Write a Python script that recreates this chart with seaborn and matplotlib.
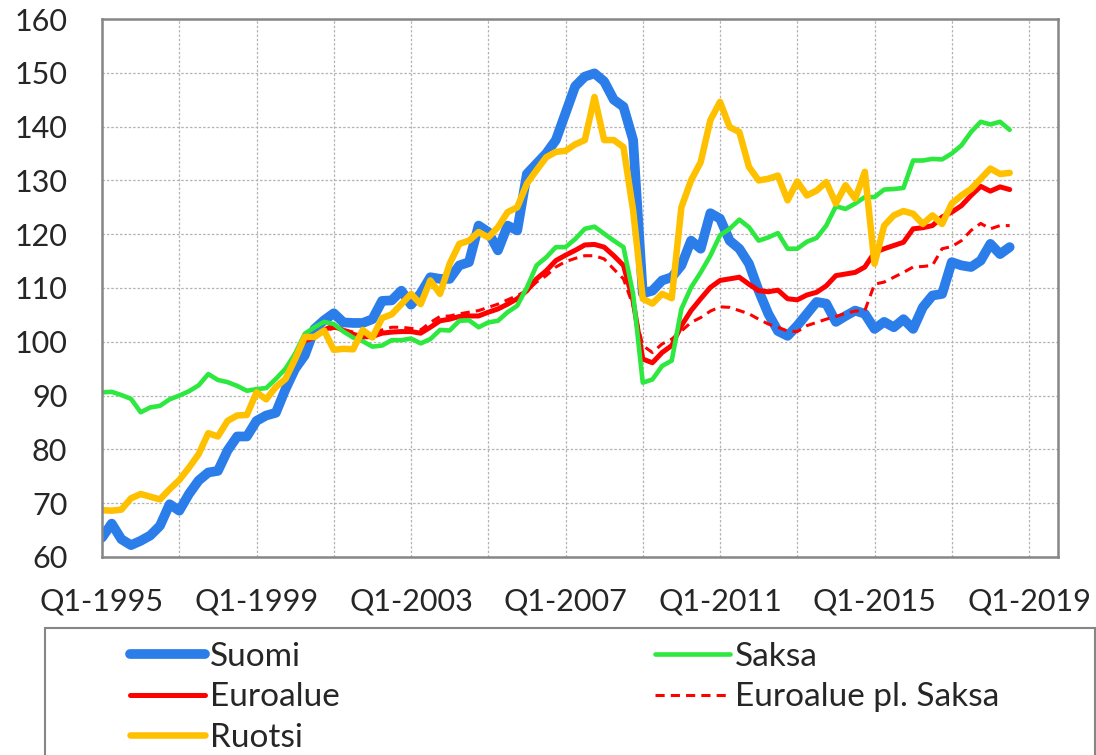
import numpy as np
import pandas as pd
import seaborn as sns
import matplotlib.pyplot as plt
from matplotlib.patches import Rectangle

# quarterly index, Q1-1995 .. Q3-2018
suomi = [63.6, 66.2, 63.3, 62.2, 63.0, 64.0, 65.8, 69.8, 68.6, 71.7,
         74.2, 75.7, 76.0, 79.8, 82.4, 82.4, 85.3, 86.3, 86.8, 91.2,
         95.0, 97.5, 102.4, 104.0, 105.3, 103.6, 103.5, 103.5, 104.2, 107.6,
         107.7, 109.5, 106.9, 109.0, 112.0, 111.7, 111.7, 114.2, 114.8, 121.6,
         120.4, 117.0, 121.6, 120.7, 131.2, 133.1, 135.0, 137.5, 142.5, 147.5,
         149.3, 149.9, 148.4, 145.0, 143.7, 137.5, 109.0, 109.5, 111.4, 112.0,
         114.2, 118.8, 117.3, 123.9, 122.9, 118.8, 117.3, 114.5, 109.5, 105.2,
         102.0, 101.1, 103.0, 105.2, 107.4, 107.1, 103.7, 104.8, 105.8, 105.2,
         102.4, 103.7, 102.7, 104.2, 102.4, 106.4, 108.6, 108.9, 114.8, 114.2,
         113.9, 115.1, 118.2, 116.3, 117.6]
saksa = [90.6, 90.7, 90.1, 89.4, 86.9, 87.8, 88.1, 89.3, 90.0, 90.8,
         91.9, 94.0, 92.9, 92.5, 91.8, 90.9, 91.2, 91.4, 93.1, 95.0,
         97.8, 101.5, 102.7, 103.7, 103.3, 101.9, 100.8, 100.1, 99.1, 99.3,
         100.3, 100.3, 100.6, 99.7, 100.5, 102.2, 102.1, 103.9, 104.0, 102.7,
         103.6, 103.9, 105.5, 106.7, 110.1, 114.2, 115.7, 117.6, 117.6, 119.1,
         121.0, 121.4, 120.1, 118.8, 117.6, 108.9, 92.4, 93.0, 95.5, 96.5,
         106.1, 110.1, 112.9, 116.0, 119.8, 121.0, 122.7, 121.3, 118.8, 119.4,
         120.2, 117.3, 117.3, 118.6, 119.3, 121.6, 125.2, 124.7, 125.7, 126.9,
         126.9, 128.3, 128.4, 128.6, 133.7, 133.7, 134.0, 133.9, 135.0, 136.5,
         139.0, 140.9, 140.4, 140.9, 139.4]
ruotsi = [68.7, 68.6, 68.8, 70.9, 71.7, 71.2, 70.7, 72.6, 74.3, 76.6,
          79.1, 83.0, 82.4, 85.3, 86.3, 86.4, 90.6, 89.3, 91.6, 93.1,
          96.8, 100.9, 100.9, 102.1, 98.5, 98.7, 98.6, 102.2, 100.8, 104.4,
          105.1, 107.0, 108.9, 107.0, 111.4, 108.9, 114.5, 118.2, 118.8, 120.4,
          119.4, 121.3, 124.1, 125.0, 129.4, 131.9, 134.3, 135.3, 135.5, 136.7,
          137.5, 145.5, 137.5, 137.5, 136.2, 124.4, 108.0, 107.1, 108.9, 108.1,
          125.0, 130.0, 133.4, 141.2, 144.6, 139.9, 139.0, 132.5, 130.0, 130.3,
          130.9, 126.3, 129.8, 127.2, 128.1, 129.7, 125.7, 129.1, 126.6, 131.6,
          114.5, 121.6, 123.5, 124.3, 123.8, 121.9, 123.5, 121.9, 125.7, 127.2,
          128.4, 130.3, 132.2, 131.2, 131.4]
# euro series start Q1-2000
euroalue = [97.6, 100.2, 100.8, 102.2, 103.0, 102.1, 101.4, 100.9, 101.0, 101.6,
            101.8, 101.9, 101.9, 101.6, 102.7, 103.9, 104.2, 104.7, 104.8, 104.8,
            105.5, 106.1, 107.0, 108.0, 109.5, 111.7, 113.2, 115.1, 116.1, 117.0,
            118.0, 118.1, 117.6, 116.0, 114.2, 107.6, 96.8, 96.1, 98.0, 99.3,
            103.0, 105.8, 108.0, 110.1, 111.4, 111.7, 112.0, 110.7, 109.5, 109.3,
            109.6, 108.0, 107.8, 108.7, 109.2, 110.4, 112.3, 112.6, 112.9, 113.9,
            116.6, 117.3, 117.9, 118.5, 121.0, 121.2, 121.6, 123.2, 124.1, 125.3,
            127.2, 128.9, 128.0, 128.8, 128.3]
euro_pl_saksa = [97.4, 100.5, 101.0, 102.0, 102.5, 102.3, 101.8, 101.5, 101.8, 102.2,
                 102.7, 102.7, 102.5, 102.2, 103.6, 104.7, 104.8, 105.2, 105.5, 105.8,
                 106.4, 107.0, 107.8, 108.6, 109.5, 111.1, 112.3, 113.9, 114.9, 115.5,
                 116.0, 116.0, 115.4, 113.5, 111.7, 106.7, 99.3, 98.0, 99.6, 100.5,
                 102.0, 103.6, 104.5, 105.7, 106.5, 106.4, 105.8, 105.2, 104.2, 103.3,
                 102.7, 102.0, 101.9, 103.0, 103.6, 104.2, 104.7, 105.3, 105.7, 105.8,
                 110.7, 111.1, 112.0, 112.9, 113.9, 114.0, 114.2, 117.3, 117.7, 118.8,
                 120.7, 122.0, 121.0, 121.6, 121.6]
tick_labels = ["Q1-1995", "Q1-1999", "Q1-2003", "Q1-2007", "Q1-2011", "Q1-2015", "Q1-2019"]

q = np.arange(len(suomi))
q_euro = np.arange(20, 20 + len(euroalue))

sns.set_style("white")
plt.rcParams['font.family'] = ['Lato', 'DejaVu Sans']

fig = plt.figure(figsize=(10.96, 7.55), dpi=100)
ax = fig.add_axes([0.0931, 0.2623, 0.8722, 0.7125])

ln_su = sns.lineplot(x=q, y=suomi, ax=ax, color='#2b7de9', lw=7, label='Suomi').lines[-1]
ln_eu = sns.lineplot(x=q_euro, y=euroalue, ax=ax, color='#ff0000', lw=3.6, label='Euroalue').lines[-1]
ln_ep = sns.lineplot(x=q_euro, y=euro_pl_saksa, ax=ax, color='#ff0000', lw=2.2, label='Euroalue pl. Saksa').lines[-1]
ln_ep.set_dashes([3, 2])
ln_sa = sns.lineplot(x=q, y=saksa, ax=ax, color='#2de83f', lw=3.3, label='Saksa').lines[-1]
ln_ru = sns.lineplot(x=q, y=ruotsi, ax=ax, color='#ffc000', lw=4.7, label='Ruotsi').lines[-1]
for ln in ax.lines:
    ln.set_solid_capstyle('round')
ax.get_legend().remove()

ax.set_xlim(0, 99)
ax.set_ylim(60, 160)
ax.set_yticks(np.arange(60, 161, 10))
ax.set_xticks(np.arange(0, 97, 8))
ax.set_xticklabels([tick_labels[i // 2] if i % 2 == 0 else "" for i in range(13)])
ax.grid(True, color='#b4b4b4', linestyle=(0, (2, 1.5)), lw=0.9)
for sp in ax.spines.values():
    sp.set_color('#868686')
    sp.set_linewidth(1.8)
ax.tick_params(axis='x', direction='inout', length=16, width=1.8, color='#868686',
               labelsize=22, pad=14)
ax.tick_params(axis='y', direction='out', length=9, width=1.8, color='#868686',
               labelsize=22, pad=16)
ax.set_xlabel('')
ax.set_ylabel('')

# legend in two separate columns, with a frame box
kw = dict(frameon=False, fontsize=24, handlelength=2.25, handletextpad=0.15,
          labelspacing=0.31, borderpad=0, borderaxespad=0, loc='upper left')
leg1 = fig.legend([ln_su, ln_eu, ln_ru], ['Suomi', 'Euroalue', 'Ruotsi'],
                  bbox_to_anchor=(130 / 1096, 1 - 642 / 755), **kw)
leg2 = fig.legend([ln_sa, ln_ep], ['Saksa', 'Euroalue pl. Saksa'],
                  bbox_to_anchor=(655 / 1096, 1 - 642 / 755), **kw)
fig.patches.append(Rectangle((45 / 1096, -0.02), 1050 / 1096, 1 - 628 / 755 + 0.02,
                             transform=fig.transFigure, fill=False,
                             edgecolor='#868686', lw=1.5, clip_on=False))

fig.savefig('out.png', dpi=100)
